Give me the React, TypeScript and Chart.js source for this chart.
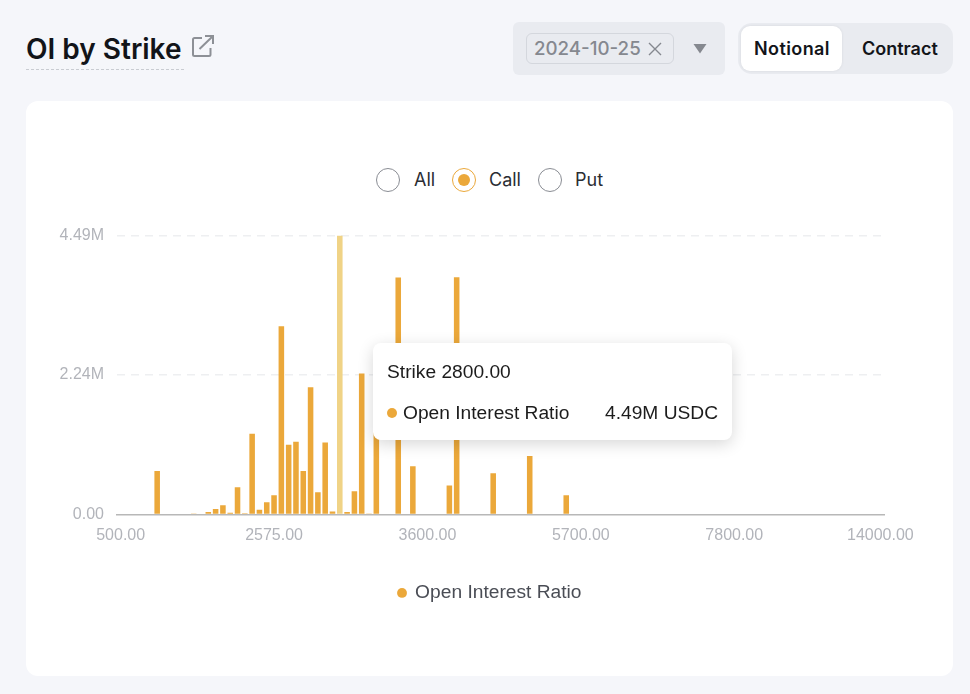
import React, { useEffect, useRef } from "react";
import { Chart, registerables } from "chart.js";

Chart.register(...registerables);

const strikes = [
  "500.00","600.00","700.00","800.00","900.00","1000.00","1100.00","1200.00","1300.00","1400.00",
  "1500.00","1600.00","1700.00","1800.00","1900.00","2000.00","2100.00","2200.00","2300.00","2400.00",
  "2500.00","2575.00","2600.00","2625.00","2650.00","2675.00","2700.00","2725.00","2750.00","2775.00",
  "2800.00","2850.00","2900.00","2950.00","3000.00","3050.00","3100.00","3150.00","3200.00","3300.00",
  "3400.00","3500.00","3600.00","3700.00","3800.00","3900.00","4000.00","4100.00","4200.00","4300.00",
  "4400.00","4500.00","4600.00","4700.00","4800.00","4900.00","5000.00","5100.00","5200.00","5300.00",
  "5400.00","5500.00","5600.00","5700.00","5800.00","5900.00","6000.00","6100.00","6200.00","6300.00",
  "6400.00","6500.00","6600.00","6700.00","6800.00","6900.00","7000.00","7100.00","7200.00","7300.00",
  "7400.00","7500.00","7600.00","7700.00","7800.00","8000.00","8200.00","8400.00","8600.00","8800.00",
  "9000.00","9500.00","10000.00","10500.00","11000.00","11500.00","12000.00","12200.00","12400.00","12600.00",
  "12800.00","13000.00","13400.00","13700.00","14000.00",
];

const oiMillions = [
  0,0,0,0,0,0.70,0,0,0,0,
  0.01,0,0.04,0.09,0.15,0.03,0.44,0.02,1.30,0.08,
  0.20,0.31,3.03,1.125,1.17,0.70,2.05,0.36,1.16,0.05,
  4.49,0.04,0.375,2.27,0.01,1.5,0,0,3.815,0,
  0.777,0,0,0,0,0.47,3.82,0,0,0,
  0,0.664,0,0,0,0,0.943,0,0,0,
  0,0.31,0,0,0,0,0,0,0,0,
  0,0,0,0,0,0,0,0,0,0,
  0,0,0,0,0,0,0,0,0,0,
  0,0,0,0,0,0,0,0,0,0,
  0,0,0,0,0,
];

const shownStrikes = ["500.00", "2575.00", "3600.00", "5700.00", "7800.00", "14000.00"];
const yTickValues = [0, 2.245, 4.49];
const yTickLabels = ["0.00", "2.24M", "4.49M"];
const activeStrike = "2800.00";
const activeValueLabel = "4.49M USDC";
const seriesName = "Open Interest Ratio";

const ORANGE = "#eba83a";
const PALE = "#f0d386";
const TICK = "#b2b4ba";
const SANS = '"Liberation Sans", Arial, sans-serif';
const UI = 'Inter, "Noto Sans", sans-serif';

const abs = (left: number, top: number, width: number, height: number): React.CSSProperties => ({
  position: "absolute",
  left,
  top,
  width,
  height,
  boxSizing: "border-box",
});

function Radio({ x, label, on, textX }: { x: number; label: string; on?: boolean; textX: number }) {
  return (
    <>
      <div
        style={{
          ...abs(x, 168, 24, 24),
          borderRadius: "50%",
          border: `1px solid ${on ? ORANGE : "#8a8d94"}`,
          background: "#fff",
        }}
      >
        {on && <div style={{ ...abs(5, 5, 12, 12), borderRadius: "50%", background: ORANGE }} />}
      </div>
      <div style={{ position: "absolute", left: textX, top: 168, lineHeight: "24px", fontSize: 18, fontFamily: UI, color: "#2a2d33" }}>
        {label}
      </div>
    </>
  );
}

// The legend is centred on the card, not on the plot area.
const legendShift = {
  id: "legendShift",
  afterLayout(chart: any) {
    chart.legend.left += 35;
    chart.legend.right += 35;
  },
};

export default function App() {
  const ref = useRef<HTMLCanvasElement>(null);

  useEffect(() => {
    const activeIndex = strikes.indexOf(activeStrike);
    const chart = new Chart(ref.current!, {
      type: "bar",
      plugins: [legendShift],
      data: {
        labels: strikes,
        datasets: [
          {
            label: seriesName,
            data: oiMillions,
            backgroundColor: strikes.map((_, i) => (i === activeIndex ? PALE : ORANGE)),
            borderWidth: 0,
            barPercentage: 0.76,
            categoryPercentage: 1,
          },
        ],
      },
      options: {
        responsive: false,
        animation: false,
        events: [],
        layout: { padding: { left: 0, right: 69, top: 35.5, bottom: 7.5 } },
        plugins: {
          tooltip: { enabled: false },
          legend: {
            position: "bottom",
            labels: {
              usePointStyle: true,
              pointStyle: "circle",
              boxWidth: 7,
              boxHeight: 7,
              padding: 26.5,
              color: "#4a4d55",
              font: { family: SANS, size: 19.2 },
              generateLabels: () => [
                {
                  text: seriesName,
                  fillStyle: ORANGE,
                  strokeStyle: ORANGE,
                  lineWidth: 0,
                  pointStyle: "circle",
                  fontColor: "#4a4d55",
                  datasetIndex: 0,
                } as any,
              ],
            },
          },
        },
        scales: {
          x: {
            offset: true,
            grid: { display: false, drawTicks: false },
            border: { color: "#b8b8b8", width: 1.5 },
            ticks: {
              autoSkip: false,
              maxRotation: 0,
              minRotation: 0,
              padding: 11.5,
              color: TICK,
              font: { family: SANS, size: 16 },
              callback(_v: any, i: number) {
                return shownStrikes.includes(strikes[i]) ? strikes[i] : "";
              },
            },
          },
          y: {
            min: 0,
            max: 4.49,
            afterBuildTicks(scale: any) {
              scale.ticks = yTickValues.map((value) => ({ value }));
            },
            afterFit(scale: any) {
              scale.width = 91;
            },
            border: { display: false, dash: [8, 6] },
            grid: {
              drawTicks: false,
              color: (ctx: any) => (ctx.index === 0 ? "rgba(0,0,0,0)" : "#eeeff1"),
              lineWidth: 1.5,
            },
            ticks: {
              padding: 13,
              color: TICK,
              font: { family: SANS, size: 16 },
              callback(_v: any, i: number) {
                return yTickLabels[i];
              },
            },
          },
        },
      } as any,
    });
    return () => chart.destroy();
  }, []);

  return (
    <div style={{ ...abs(0, 0, 970, 694), background: "#f5f6fa", overflow: "hidden", fontFamily: UI }}>
      <div style={{ position: "absolute", left: 26, top: 31, lineHeight: "36px", fontSize: 28, fontWeight: 600, color: "#121419", whiteSpace: "nowrap" }}>
        OI by Strike
      </div>
      <div style={{ ...abs(26, 69, 158, 1), borderTop: "1px dashed #c9ccd2" }} />
      <svg style={{ ...abs(191, 34, 24, 24) }} viewBox="0 0 24 24" fill="none" stroke="#8d9096" strokeWidth="2">
        <path d="M11 4 H3.5 a1.5 1.5 0 0 0 -1.5 1.5 V20.5 a1.5 1.5 0 0 0 1.5 1.5 H18 a1.5 1.5 0 0 0 1.5 -1.5 V14" />
        <path d="M8.5 15 L22 2 M14 2 H22 V10" />
      </svg>

      <div style={{ ...abs(513, 22, 212, 53), background: "#e9ebf0", borderRadius: 6 }} />
      <div style={{ ...abs(526, 33, 148, 31), border: "1px solid #d4d7dd", borderRadius: 6 }} />
      <div style={{ position: "absolute", left: 534, top: 33, lineHeight: "31px", fontSize: 18.7, fontWeight: 500, color: "#85888f", whiteSpace: "nowrap" }}>
        2024-10-25
      </div>
      <svg style={{ ...abs(648, 42, 14, 14) }} viewBox="0 0 14 14" stroke="#85888f" strokeWidth="1.4">
        <path d="M1 1 L13 13 M13 1 L1 13" />
      </svg>
      <svg style={{ ...abs(693, 43, 14, 11) }} viewBox="0 0 14 11" fill="#85888f">
        <path d="M0.5 1 H13.5 L7 10.5 Z" />
      </svg>

      <div style={{ ...abs(738, 23, 215, 51), background: "#e9ebf0", borderRadius: 14 }} />
      <div style={{ ...abs(741, 26, 101, 45), background: "#fff", borderRadius: 9, boxShadow: "0 0 3px rgba(0,0,0,0.08)" }} />
      <div style={{ position: "absolute", left: 754, top: 26, lineHeight: "45px", fontSize: 18, letterSpacing: 0.4, fontWeight: 600, color: "#121419" }}>Notional</div>
      <div style={{ position: "absolute", left: 862, top: 26, lineHeight: "45px", fontSize: 18, fontWeight: 600, color: "#121419" }}>Contract</div>

      <div style={{ ...abs(26, 101, 927, 575), background: "#fff", borderRadius: 12 }} />
      <Radio x={376} label="All" textX={414} />
      <Radio x={452} label="Call" on textX={489} />
      <Radio x={538} label="Put" textX={575} />

      <canvas ref={ref} width={927} height={420} style={{ ...abs(26, 200, 927, 420), display: "block" }} />

      <div
        style={{
          ...abs(373, 343, 359, 97),
          background: "#fff",
          borderRadius: 8,
          boxShadow: "0 4px 16px rgba(0,0,0,0.16)",
          fontFamily: SANS,
          fontSize: 19.2,
          color: "#1c1c1c",
        }}
      >
        <div style={{ position: "absolute", left: 14, top: 18, lineHeight: "22px" }}>Strike {activeStrike}</div>
        <div style={{ ...abs(14, 65, 10, 10), borderRadius: "50%", background: ORANGE }} />
        <div style={{ position: "absolute", left: 30, top: 59, lineHeight: "22px" }}>{seriesName}</div>
        <div style={{ position: "absolute", right: 14, top: 59, lineHeight: "22px" }}>{activeValueLabel}</div>
      </div>
    </div>
  );
}
